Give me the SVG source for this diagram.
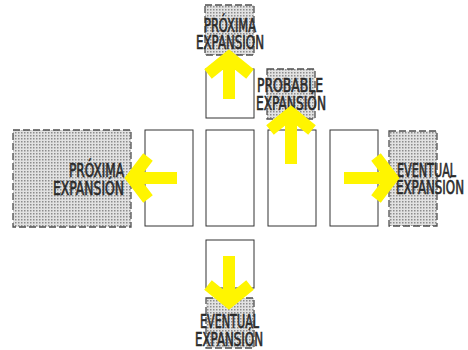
<svg xmlns="http://www.w3.org/2000/svg" width="468" height="350" viewBox="0 0 468 350">
<defs>
<pattern id="dots" width="3" height="3" patternUnits="userSpaceOnUse">
<rect width="3" height="3" fill="#e2e2e2"/>
<rect x="0" y="0" width="1.5" height="1.5" fill="#8c8c8c"/>
</pattern>
</defs>
<style>
.bld{fill:#fff;stroke:#333;stroke-width:1}
.exp{fill:url(#dots);stroke:#505050;stroke-width:1.3;stroke-dasharray:7 3}
.lbl{font-family:"DejaVu Sans Condensed","DejaVu Sans",sans-serif;font-size:13.5px;fill:#2a2a2a;stroke:#2a2a2a;stroke-width:0.45;font-stretch:condensed}
.arr{fill:none;stroke:#fff500;stroke-width:12;stroke-linecap:butt;stroke-linejoin:miter}
</style>
<rect width="468" height="350" fill="#fff"/>
<g id="bldg1"><rect class="bld" x="145" y="130" width="48" height="96"/></g>
<g id="bldg2"><rect class="bld" x="206" y="130" width="48" height="96"/></g>
<g id="bldg3"><rect class="bld" x="268" y="130" width="48" height="96"/></g>
<g id="bldg4"><rect class="bld" x="330" y="130" width="48" height="96"/></g>
<g id="bldgTop"><rect class="bld" x="206" y="69" width="48" height="49"/></g>
<g id="bldgBottom"><rect class="bld" x="206" y="240" width="48" height="48"/></g>
<g id="expTop">
<rect class="exp" x="205" y="5" width="49" height="50"/>
<text class="lbl" transform="translate(204 32) scale(1 1.4)" textLength="52" lengthAdjust="spacingAndGlyphs">PRÓXIMA</text>
<text class="lbl" transform="translate(196 49) scale(1 1.4)" textLength="68" lengthAdjust="spacingAndGlyphs">EXPANSION</text>
</g>
<g id="expProbable">
<rect class="exp" x="267" y="69" width="48" height="50"/>
<text class="lbl" transform="translate(257 92) scale(1 1.4)" textLength="66" lengthAdjust="spacingAndGlyphs">PROBABLE</text>
<text class="lbl" transform="translate(256 110) scale(1 1.4)" textLength="70" lengthAdjust="spacingAndGlyphs">EXPANSIÓN</text>
</g>
<g id="expLeft">
<rect class="exp" x="13" y="130" width="118" height="97"/>
<text class="lbl" transform="translate(69 177) scale(1 1.4)" textLength="55" lengthAdjust="spacingAndGlyphs">PRÓXIMA</text>
<text class="lbl" transform="translate(53 195) scale(1 1.4)" textLength="71" lengthAdjust="spacingAndGlyphs">EXPANSIÓN</text>
</g>
<g id="expRight">
<rect class="exp" x="389" y="131" width="48" height="95"/>
<text class="lbl" transform="translate(397 177) scale(1 1.4)" textLength="59" lengthAdjust="spacingAndGlyphs">EVENTUAL</text>
<text class="lbl" transform="translate(396 194) scale(1 1.4)" textLength="68" lengthAdjust="spacingAndGlyphs">EXPANSIÓN</text>
</g>
<g id="expBottom">
<rect class="exp" x="206" y="298" width="48" height="50"/>
<text class="lbl" transform="translate(200 328) scale(1 1.4)" textLength="59" lengthAdjust="spacingAndGlyphs">EVENTUAL</text>
<text class="lbl" transform="translate(195 346) scale(1 1.4)" textLength="68" lengthAdjust="spacingAndGlyphs">EXPANSIÓN</text>
</g>
<g id="connectors">
<path class="arr" d="M229 99V58M208 74L229 57L250 74"/>
<path class="arr" d="M291 164V116M270 130L291 113L312 130"/>
<path class="arr" d="M177 178H136M148 157L132 178L148 199"/>
<path class="arr" d="M344 178H388M376 157L392 178L376 199"/>
<path class="arr" d="M229 256V300M208 285L229 302L250 285"/>
</g>
</svg>
